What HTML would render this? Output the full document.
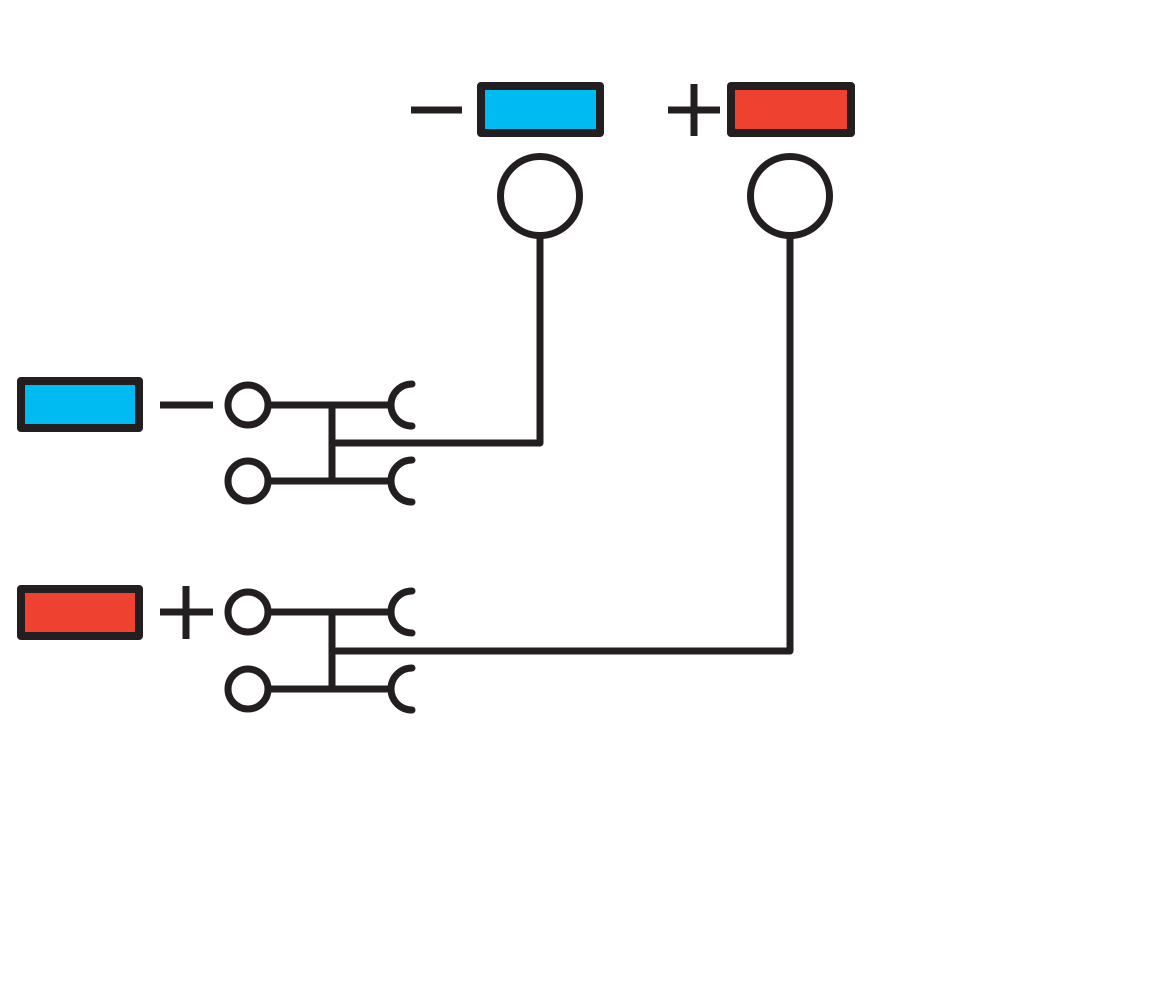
<!DOCTYPE html>
<html><head><meta charset="utf-8"><style>html,body{margin:0;padding:0;background:#fff;}svg{display:block}</style></head>
<body>
<svg width="1161" height="981" viewBox="0 0 1161 981" xmlns="http://www.w3.org/2000/svg">
<g stroke="#231f20" stroke-width="7" fill="none" stroke-linecap="round" stroke-linejoin="round">
  <!-- top symbols -->
  <rect x="481" y="86" width="119" height="47" fill="#00bbf2" stroke-width="8"/>
  <rect x="731" y="86" width="120" height="47" fill="#ef4130" stroke-width="8"/>
  <line x1="411" y1="110" x2="462" y2="110" stroke-linecap="butt"/>
  <line x1="668" y1="110" x2="720" y2="110" stroke-linecap="butt"/>
  <line x1="694" y1="84" x2="694" y2="136" stroke-linecap="butt"/>
  <circle cx="540" cy="196" r="39.5" fill="#fff"/>
  <circle cx="790" cy="196" r="39.5" fill="#fff"/>
  <!-- left symbols -->
  <rect x="21" y="381" width="118" height="47" fill="#00bbf2" stroke-width="8"/>
  <rect x="21" y="589" width="118" height="47" fill="#ef4130" stroke-width="8"/>
  <line x1="160" y1="405" x2="213" y2="405" stroke-linecap="butt"/>
  <line x1="160" y1="612" x2="213" y2="612" stroke-linecap="butt"/>
  <line x1="186" y1="586" x2="186" y2="639" stroke-linecap="butt"/>
  <!-- group 1 -->
  <circle cx="248" cy="405" r="20"/>
  <circle cx="248" cy="481" r="20"/>
  <line x1="268" y1="405" x2="391" y2="405"/>
  <line x1="268" y1="481" x2="391" y2="481"/>
  <line x1="332" y1="405" x2="332" y2="481"/>
  <path d="M412 384 A21 21 0 0 0 412 426"/>
  <path d="M412 460 A21 21 0 0 0 412 502"/>
  <polyline points="332,443 540,443 540,236"/>
  <!-- group 2 -->
  <circle cx="248" cy="612" r="20"/>
  <circle cx="248" cy="689" r="20"/>
  <line x1="268" y1="612" x2="391" y2="612"/>
  <line x1="268" y1="689" x2="391" y2="689"/>
  <line x1="332" y1="612" x2="332" y2="689"/>
  <path d="M412 591 A21 21 0 0 0 412 633"/>
  <path d="M412 668 A21 21 0 0 0 412 710"/>
  <polyline points="332,651 790,651 790,236"/>
</g>
</svg>
</body></html>
